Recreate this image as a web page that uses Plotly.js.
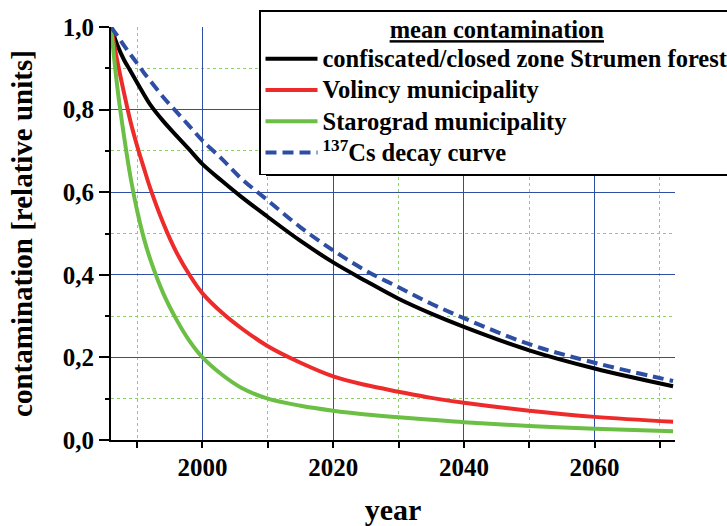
<!DOCTYPE html>
<html>
<head>
<meta charset="utf-8">
<script src="https://cdn.plot.ly/plotly-3.0.1.min.js"></script>
<style>html,body{margin:0;padding:0;background:#fff;}#chart{width:727px;height:526px;}</style>
</head>
<body>
<div id="chart"></div>
<script>
// Data
var years = [1986, 1987, 1988, 1989, 1990, 1991, 1992, 1994, 1996, 1998, 2000, 2003, 2006, 2010, 2015, 2020, 2025, 2030, 2035, 2040, 2050, 2060, 2072];
var strumen = [1.0, 0.955, 0.92, 0.893, 0.865, 0.838, 0.812, 0.772, 0.737, 0.703, 0.668, 0.627, 0.588, 0.54, 0.482, 0.43, 0.385, 0.342, 0.306, 0.274, 0.217, 0.173, 0.130];
var volincy = [1.0, 0.915, 0.84, 0.77, 0.712, 0.66, 0.61, 0.525, 0.455, 0.40, 0.355, 0.308, 0.27, 0.227, 0.187, 0.154, 0.133, 0.117, 0.102, 0.090, 0.071, 0.056, 0.044];
var starograd = [1.0, 0.85, 0.735, 0.635, 0.555, 0.49, 0.438, 0.355, 0.292, 0.24, 0.20, 0.158, 0.126, 0.10, 0.083, 0.071, 0.062, 0.055, 0.049, 0.043, 0.034, 0.027, 0.021];
var csDecay = [1.0, 0.978, 0.955, 0.933, 0.912, 0.89, 0.87, 0.83, 0.795, 0.76, 0.725, 0.68, 0.632, 0.58, 0.515, 0.459, 0.41, 0.370, 0.33, 0.295, 0.232, 0.187, 0.143];
var seriesNames = ['confiscated/closed zone Strumen forest', 'Volincy municipality', 'Starograd municipality', '<sup>137</sup>Cs decay curve'];
var legendTitle = 'mean contamination';
var xTitle = 'year';
var yTitle = 'contamination [relative units]';

var FONT = 'Liberation Serif, Times New Roman, serif';
function big(s) { return '<span style="font-size:24.5px">' + s + '</span>'; }
function tr(y, name, color, dash) {
  return {x: years, y: y, name: big(name), type: 'scatter', mode: 'lines',
          line: {color: color, width: 4, shape: 'spline', smoothing: 1, dash: dash || 'solid'}};
}
var data = [
  tr(strumen, seriesNames[0], '#000000'),
  tr(volincy, seriesNames[1], '#ee2b2b'),
  tr(starograd, seriesNames[2], '#6cbf45'),
  tr(csDecay, seriesNames[3], '#2e4ea3', '11px,6px')
];

var L = 111, R = 675, T = 27, B = 440;
function px2paperX(p){ return (p - L) / (R - L); }
function px2paperY(p){ return (B - p) / (B - T); }

var layout = {
  width: 727, height: 526,
  margin: {l: L, r: 727 - R, t: T, b: 526 - B, autoexpand: false},
  paper_bgcolor: '#fff', plot_bgcolor: '#fff',
  separators: ',.',
  font: {family: FONT, color: '#000', size: 25, weight: 'bold'},
  showlegend: true,
  legend: {
    x: px2paperX(259), y: px2paperY(10), xanchor: 'left', yanchor: 'top',
    bgcolor: '#fff', bordercolor: '#000', borderwidth: 1.5,
    font: {family: FONT, size: 21.7, color: '#000', weight: 'bold'},
    title: {text: '<u>' + big(legendTitle) + '</u>', side: 'top center', font: {family: FONT, size: 20.5, color: '#000', weight: 'bold'}},
    itemwidth: 52, tracegroupgap: 0
  },
  xaxis: {
    range: [1986, 2072.3], tick0: 2000, dtick: 20,
    showline: true, linecolor: '#000', linewidth: 2,
    ticks: 'outside', ticklen: 6, tickwidth: 2, tickcolor: '#000',
    showgrid: true, gridcolor: '#2e4ea3', gridwidth: 1,
    zeroline: false,
    tickfont: {family: FONT, size: 25, color: '#000', weight: 'bold'},
    ticklabelstandoff: -2,
    minor: {tick0: 1990, dtick: 10, ticks: 'outside', ticklen: 6, tickwidth: 2, tickcolor: '#000', showgrid: true, gridcolor: '#8fd06a', griddash: 'dot', gridwidth: 1},
    title: {text: xTitle, standoff: 22, font: {family: FONT, size: 30, color: '#000', weight: 'bold'}}
  },
  yaxis: {
    range: [0, 1], tick0: 0, dtick: 0.2, tickformat: '.1f',
    showline: true, linecolor: '#000', linewidth: 2,
    ticks: 'outside', ticklen: 10, tickwidth: 2, tickcolor: '#000',
    showgrid: true, gridcolor: '#2e4ea3', gridwidth: 1,
    zeroline: false,
    tickfont: {family: FONT, size: 25, color: '#000', weight: 'bold'},
    minor: {dtick: 0.1, ticks: 'outside', ticklen: 4, tickwidth: 2, tickcolor: '#000', showgrid: true, gridcolor: '#8fd06a', griddash: 'dot', gridwidth: 1},
    title: {text: yTitle, standoff: 22, font: {family: FONT, size: 29, color: '#000', weight: 'bold'}}
  },
  shapes: [
    {type: 'rect', xref: 'paper', yref: 'paper', layer: 'above',
     x0: px2paperX(266), x1: px2paperX(760), y0: px2paperY(176), y1: px2paperY(150),
     fillcolor: '#000', line: {width: 0}}
  ]
};

Plotly.newPlot('chart', data, layout, {staticPlot: true, displayModeBar: false});
</script>
</body>
</html>
